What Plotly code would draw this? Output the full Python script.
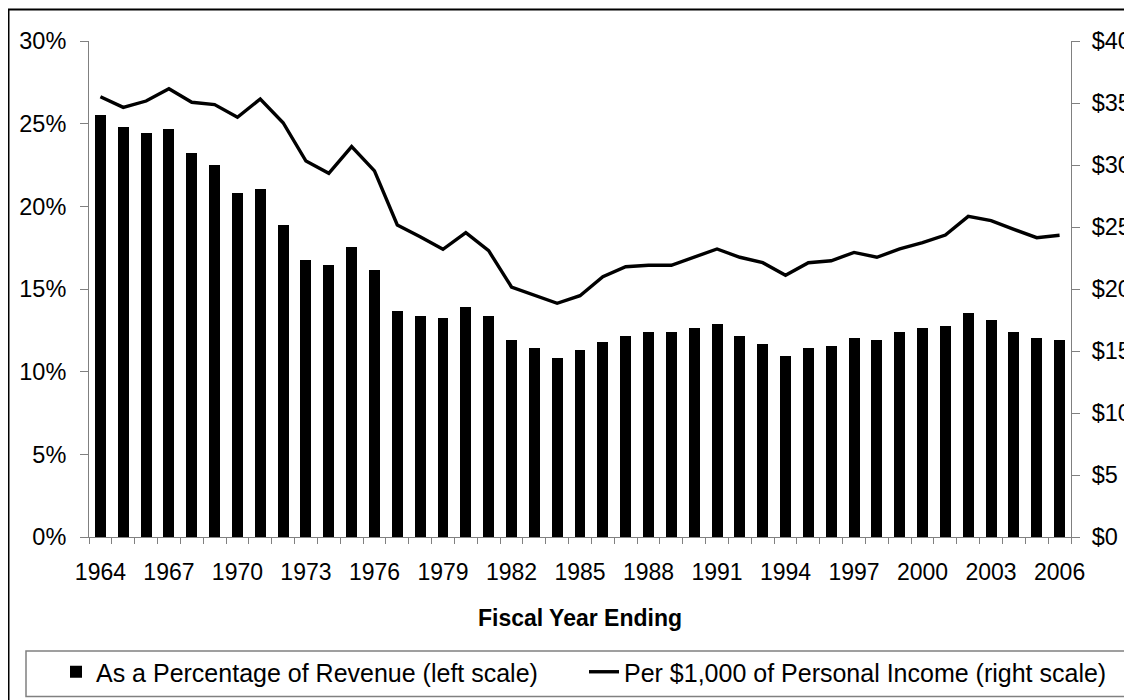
import plotly.graph_objects as go

years = list(range(1964, 2007))
pct_revenue = [25.55, 24.82, 24.46, 24.70, 23.25, 22.52, 20.83, 21.07, 18.89, 16.74,
               16.47, 17.56, 16.13, 13.69, 13.35, 13.23, 13.93, 13.35, 11.90, 11.41,
               10.81, 11.29, 11.78, 12.14, 12.38, 12.38, 12.62, 12.87, 12.14, 11.66,
               10.93, 11.41, 11.54, 12.02, 11.90, 12.38, 12.62, 12.75, 13.57, 13.11,
               12.38, 12.02, 11.90]
per_1000_income = [35.51, 34.65, 35.16, 36.15, 35.06, 34.87, 33.85, 35.32, 33.41, 30.32,
                   29.33, 31.48, 29.52, 25.16, 24.22, 23.20, 24.54, 23.09, 20.16, 19.52,
                   18.85, 19.46, 20.99, 21.80, 21.91, 21.91, 22.56, 23.23, 22.56, 22.12,
                   21.10, 22.12, 22.28, 22.95, 22.56, 23.23, 23.74, 24.35, 25.86, 25.51,
                   24.81, 24.14, 24.33]
label_years = list(range(1964, 2007, 3))
left_ticks = [0, 5, 10, 15, 20, 25, 30]
right_ticks = [0, 5, 10, 15, 20, 25, 30, 35, 40]

bar_name = "As a Percentage of Revenue (left scale)"
line_name = "Per $1,000 of Personal Income (right scale)"
x_title = "Fiscal Year Ending"

# page offset of the figure (browser body margin)
OFF = 8
W, H = 1132 - OFF, 700 - OFF
# plot area in page pixels
PL, PR, PT, PB = 89, 1071, 41, 537
L, T = PL - OFF, PT - OFF
R, B = W - (PR - OFF), H - (PB - OFF)
PW, PH = PR - PL, PB - PT

def px_x(p):
    return (p - PL) / PW

def px_y(p):
    return (PB - p) / PH

FONT = "Liberation Sans, Arial, sans-serif"
GRAY = "#808080"
boundaries = [y - 0.5 for y in years] + [years[-1] + 0.5]

fig = go.Figure()
fig.add_trace(go.Bar(x=years, y=pct_revenue, name=bar_name, marker=dict(color="black", line=dict(width=0)),
                     width=0.48, yaxis="y", legend="legend"))
fig.add_trace(go.Scatter(x=years, y=per_1000_income, name=line_name, mode="lines",
                         line=dict(color="black", width=3.4), yaxis="y2", legend="legend2"))

xr = [years[0] - 0.5, years[-1] + 0.5]
fig.update_layout(
    width=W, height=H, autosize=False,
    margin=dict(l=L, r=R, t=T, b=B, pad=0, autoexpand=False),
    paper_bgcolor="white", plot_bgcolor="white",
    font=dict(family=FONT, color="black", size=23),
    bargap=0,
    xaxis=dict(range=xr, tickmode="array", tickvals=label_years, ticktext=[str(y) for y in label_years],
               ticks="", showline=True, linecolor=GRAY, linewidth=1, showgrid=False, zeroline=False,
               tickfont=dict(size=23), ticklabelstandoff=14, automargin=False,
               minor=dict(tickmode="array", tickvals=boundaries, ticks="outside", ticklen=6,
                          tickcolor=GRAY, tickwidth=1, showgrid=False),
               title=dict(text=x_title, font=dict(size=23, weight="bold"), standoff=26)),
    xaxis2=dict(range=xr, overlaying="x", anchor="y", side="bottom", tickmode="array", tickvals=boundaries,
                ticks="inside", ticklen=6, tickcolor=GRAY, tickwidth=1, showticklabels=False,
                showline=False, showgrid=False, zeroline=False),
    yaxis=dict(range=[0, 30], tickmode="array", tickvals=left_ticks, ticktext=[f"{v}%" for v in left_ticks],
               ticks="outside", ticklen=8, tickcolor=GRAY, tickwidth=1, showline=True, linecolor=GRAY,
               linewidth=1, showgrid=False, zeroline=False, tickfont=dict(size=23.5), ticklabelstandoff=9,
               automargin=False),
    yaxis3=dict(range=[0, 30], overlaying="y", anchor="x", side="left", tickmode="array", tickvals=left_ticks,
                ticks="inside", ticklen=8, tickcolor=GRAY, tickwidth=1, showticklabels=False,
                showline=False, showgrid=False, zeroline=False),
    yaxis2=dict(range=[0, 40], overlaying="y", anchor="x", side="right", tickmode="array", tickvals=right_ticks,
                ticktext=[f"${v}" for v in right_ticks], ticks="outside", ticklen=8, tickcolor=GRAY,
                tickwidth=1, showline=True, linecolor=GRAY, linewidth=1, showgrid=False, zeroline=False,
                tickfont=dict(size=23.5), ticklabelstandoff=7, automargin=False),
    yaxis4=dict(range=[0, 40], overlaying="y", anchor="x", side="right", tickmode="array", tickvals=right_ticks,
                ticks="inside", ticklen=8, tickcolor=GRAY, tickwidth=1, showticklabels=False,
                showline=False, showgrid=False, zeroline=False),
    showlegend=True,
    legend=dict(orientation="h", x=px_x(56), xanchor="left", y=px_y(649), yanchor="top",
                bgcolor="rgba(0,0,0,0)", borderwidth=0, font=dict(size=25)),
    legend2=dict(orientation="h", x=px_x(584), xanchor="left", y=px_y(649), yanchor="top",
                 bgcolor="rgba(0,0,0,0)", borderwidth=0, font=dict(size=25)),
    shapes=[
        dict(type="rect", xref="paper", yref="paper", x0=px_x(8.5), x1=px_x(1150), y0=px_y(720), y1=px_y(9.5),
             line=dict(color="black", width=2), fillcolor="rgba(0,0,0,0)", layer="above"),
        dict(type="rect", xref="paper", yref="paper", x0=px_x(26), x1=px_x(1150), y0=px_y(696.5), y1=px_y(651),
             line=dict(color=GRAY, width=1.5), fillcolor="rgba(0,0,0,0)", layer="above"),
    ],
)

fig.write_html("out.html")
